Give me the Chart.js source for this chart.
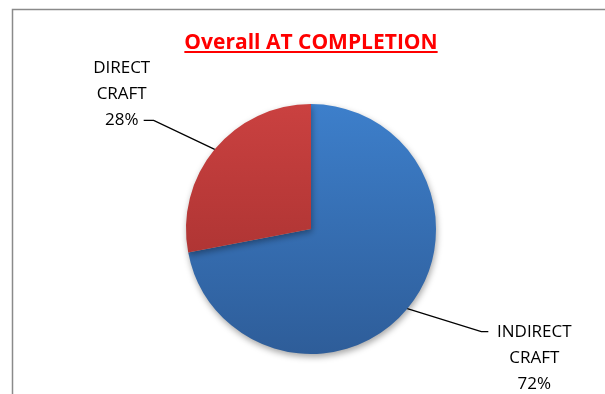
<!DOCTYPE html>
<html lang="en">
<head>
<meta charset="UTF-8">
<title>Overall AT COMPLETION</title>
<script src="https://cdn.jsdelivr.net/npm/chart.js"></script>
<style>
    body { margin: 0; padding: 0; background: #fff; overflow: hidden; }
    #wrap { width: 605px; height: 394px; position: relative; }
</style>
</head>
<body>
<div id="wrap"><canvas id="pieChart" width="605" height="394"></canvas></div>
<script>
    // data
    const chartTitle = 'Overall AT COMPLETION';
    const categories = [['INDIRECT', 'CRAFT'], ['DIRECT', 'CRAFT']];
    const percentValues = [72, 28];
    const gradientTop = ['#3D7FCB', '#CA4140'];
    const gradientBottom = ['#2E5D99', '#9E2D2C'];

    // leader line offsets (from slice edge to elbow, then short horizontal)
    const leaderStyle = [
        { dx: 74, dy: 23, hx: 7, textX: 46 },
        { dx: -61, dy: -29, hx: -10, textX: -22 }
    ];

    const framePlugin = {
        id: 'frame',
        beforeDraw(chart) {
            const ctx = chart.ctx;
            ctx.save();
            ctx.strokeStyle = '#8a8a8a';
            ctx.lineWidth = 1.5;
            ctx.strokeRect(12.5, 9.5, 800, 600);
            // title
            ctx.font = 'bold 21px "Open Sans", sans-serif';
            ctx.fillStyle = '#ff0000';
            ctx.textAlign = 'center';
            ctx.textBaseline = 'alphabetic';
            const tx = 311, ty = 49;
            ctx.fillText(chartTitle, tx, ty);
            const w = ctx.measureText(chartTitle).width;
            ctx.fillRect(tx - w / 2, ty + 2, w, 2);
            ctx.restore();
        },
        beforeDatasetsDraw(chart) {
            const ctx = chart.ctx;
            ctx.save();
            ctx.shadowColor = 'rgba(0,0,0,0.35)';
            ctx.shadowBlur = 6;
            ctx.shadowOffsetX = 1;
            ctx.shadowOffsetY = 3;
        },
        afterDatasetsDraw(chart) {
            chart.ctx.restore();
            const ctx = chart.ctx;
            const meta = chart.getDatasetMeta(0);
            const total = percentValues.reduce((a, b) => a + b, 0);
            ctx.save();
            meta.data.forEach((arc, i) => {
                const mid = (arc.startAngle + arc.endAngle) / 2;
                const ex = arc.x + Math.cos(mid) * arc.outerRadius;
                const ey = arc.y + Math.sin(mid) * arc.outerRadius;
                const s = leaderStyle[i];
                const bx = ex + s.dx, by = ey + s.dy;
                ctx.strokeStyle = '#000';
                ctx.lineWidth = 1.3;
                ctx.beginPath();
                ctx.moveTo(ex, ey);
                ctx.lineTo(bx, by);
                ctx.lineTo(bx + s.hx, by);
                ctx.stroke();

                const lines = categories[i].concat([Math.round(percentValues[i] / total * 100) + '%']);
                ctx.font = '17px "Open Sans", sans-serif';
                ctx.fillStyle = '#000';
                ctx.textAlign = 'center';
                ctx.textBaseline = 'middle';
                const cx = bx + s.hx + s.textX;
                const lh = 26.2;
                // the percentage line sits on the leader line for the left label,
                // the first line sits on it for the right label
                const startY = s.dx < 0 ? by - 2 * lh : by;
                lines.forEach((t, k) => ctx.fillText(t, cx, startY + k * lh));
            });
            ctx.restore();
        }
    };

    function sliceGradient(context) {
        const chart = context.chart;
        const area = chart.chartArea;
        if (!area) return gradientTop[context.dataIndex];
        const g = chart.ctx.createLinearGradient(0, area.top, 0, area.bottom);
        g.addColorStop(0, gradientTop[context.dataIndex]);
        g.addColorStop(1, gradientBottom[context.dataIndex]);
        return g;
    }

    new Chart(document.getElementById('pieChart'), {
        type: 'pie',
        data: {
            labels: categories.map(c => c.join(' ')),
            datasets: [{
                data: percentValues,
                backgroundColor: sliceGradient,
                borderWidth: 0
            }]
        },
        options: {
            responsive: false,
            animation: false,
            layout: { padding: { top: 104, bottom: 40, left: 186, right: 169 } },
            plugins: {
                legend: { display: false },
                title: { display: false },
                tooltip: { enabled: false }
            }
        },
        plugins: [framePlugin]
    });
</script>
</body>
</html>
